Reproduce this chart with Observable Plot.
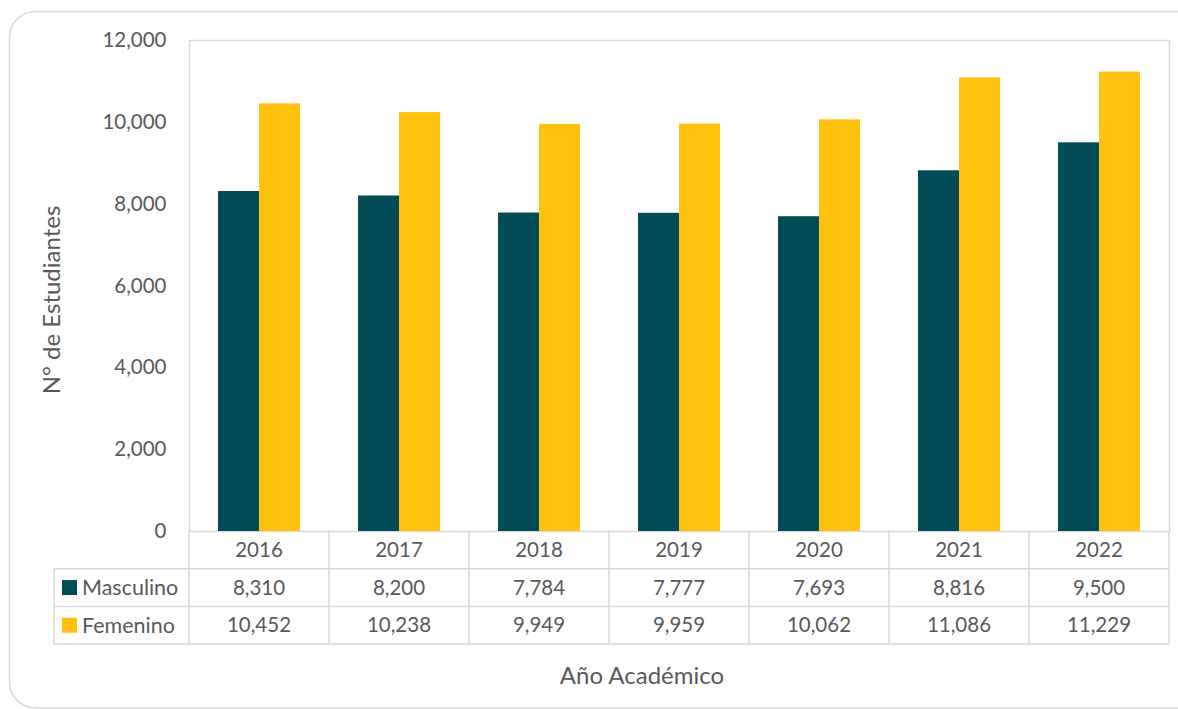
<!DOCTYPE html>
<html><head><meta charset="utf-8">
<script src="https://cdn.jsdelivr.net/npm/d3@7"></script>
<script src="https://cdn.jsdelivr.net/npm/@observablehq/plot@0.6"></script>
<style>
html,body{margin:0;padding:0;background:#fff;}
#chart{width:1178px;height:709px;}
</style></head>
<body><div id="chart"></div>
<script>
const years = ["2016","2017","2018","2019","2020","2021","2022"];
const series = ["Masculino","Femenino"];
const masculino = [8310, 8200, 7784, 7777, 7693, 8816, 9500];
const femenino = [10452, 10238, 9949, 9959, 10062, 11086, 11229];
const colors = ["#024C57", "#FEC20E"];
const yTicks = [0, 2000, 4000, 6000, 8000, 10000, 12000];

const data = [];
years.forEach((y, i) => {
  data.push({year: y, sex: "Masculino", value: masculino[i]});
  data.push({year: y, sex: "Femenino", value: femenino[i]});
});

const FONT = "Lato, 'Open Sans', sans-serif";
const FS = 20.5;
const W = 1178, H = 709;
const mL = 189, mR = 9, mT = 40, mB = 178;
const step = (W - mL - mR) / years.length;
const barW = 41, outer = 29;
const fmt = d3.format(",");

const plot = Plot.plot({
  width: W, height: H,
  marginLeft: mL, marginRight: mR, marginTop: mT, marginBottom: mB,
  style: {fontFamily: FONT, fontSize: FS + "px", color: "#595959", background: "transparent"},
  x: {domain: years, padding: 0, axis: null},
  y: {domain: [0, 12000], ticks: yTicks, tickFormat: fmt, label: null},
  color: {domain: series, range: colors},
  marks: [
    Plot.frame({stroke: "#d9d9d9", strokeWidth: 1.5}),
    Plot.axisY({ticks: yTicks, tickFormat: fmt, tickSize: 0, tickPadding: 23, label: null}),
    Plot.barY(data.filter(d => d.sex === "Masculino"), {x: "year", y: "value", fill: d => d.sex,
      insetLeft: outer, insetRight: step - outer - barW}),
    Plot.barY(data.filter(d => d.sex === "Femenino"), {x: "year", y: "value", fill: d => d.sex,
      insetLeft: outer + barW, insetRight: step - outer - 2 * barW})
  ]
});

const svg = d3.select(plot);
const xs = plot.scale("x");
const ys = plot.scale("y");
const y0 = ys.apply(0);
const rowH = 37.7;
const gridColor = "#d9d9d9";
const textColor = "#595959";
const left = 54;
const right = xs.apply(years[years.length - 1]) + xs.bandwidth;

svg.insert("rect", ":first-child")
  .attr("x", 9.5).attr("y", 11.5).attr("width", 1200).attr("height", 696.5)
  .attr("rx", 26).attr("fill", "#fff").attr("stroke", gridColor).attr("stroke-width", 1.5);

const g = svg.append("g").attr("font-family", FONT).attr("font-size", FS).attr("fill", textColor);

[1, 2, 3].forEach(k => {
  g.append("line").attr("x1", left).attr("x2", right)
    .attr("y1", y0 + rowH * k).attr("y2", y0 + rowH * k)
    .attr("stroke", gridColor).attr("stroke-width", 1.5);
});
years.forEach((yr) => {
  const x = xs.apply(yr);
  g.append("line").attr("x1", x).attr("x2", x).attr("y1", y0).attr("y2", y0 + rowH * 3)
    .attr("stroke", gridColor).attr("stroke-width", 1.5);
});
g.append("line").attr("x1", right).attr("x2", right).attr("y1", y0).attr("y2", y0 + rowH * 3)
  .attr("stroke", gridColor).attr("stroke-width", 1.5);
g.append("line").attr("x1", left).attr("x2", left).attr("y1", y0 + rowH).attr("y2", y0 + rowH * 3)
  .attr("stroke", gridColor).attr("stroke-width", 1.5);

years.forEach((yr, i) => {
  const cx = xs.apply(yr) + xs.bandwidth / 2;
  g.append("text").attr("x", cx).attr("y", y0 + rowH * 0.5).attr("dy", "0.35em").attr("text-anchor", "middle").text(yr);
  g.append("text").attr("x", cx).attr("y", y0 + rowH * 1.5).attr("dy", "0.35em").attr("text-anchor", "middle").text(fmt(masculino[i]));
  g.append("text").attr("x", cx).attr("y", y0 + rowH * 2.5).attr("dy", "0.35em").attr("text-anchor", "middle").text(fmt(femenino[i]));
});
series.forEach((s, k) => {
  const cy = y0 + rowH * (1.5 + k);
  g.append("rect").attr("x", 62).attr("y", cy - 7.5).attr("width", 15).attr("height", 15).attr("fill", plot.scale("color").apply(s));
  g.append("text").attr("x", 82).attr("y", cy).attr("dy", "0.35em").attr("text-anchor", "start")
    .attr("font-size", 21.5).text(s);
});

g.append("text").attr("transform", `translate(52,300) rotate(-90)`).attr("font-size", 24)
  .attr("dy", "0.35em").attr("text-anchor", "middle").text("N° de Estudiantes");
g.append("text").attr("x", 642).attr("y", 676).attr("dy", "0.35em").attr("font-size", 24)
  .attr("text-anchor", "middle").text("Año Académico");

document.getElementById("chart").appendChild(plot);
</script>
</body></html>
